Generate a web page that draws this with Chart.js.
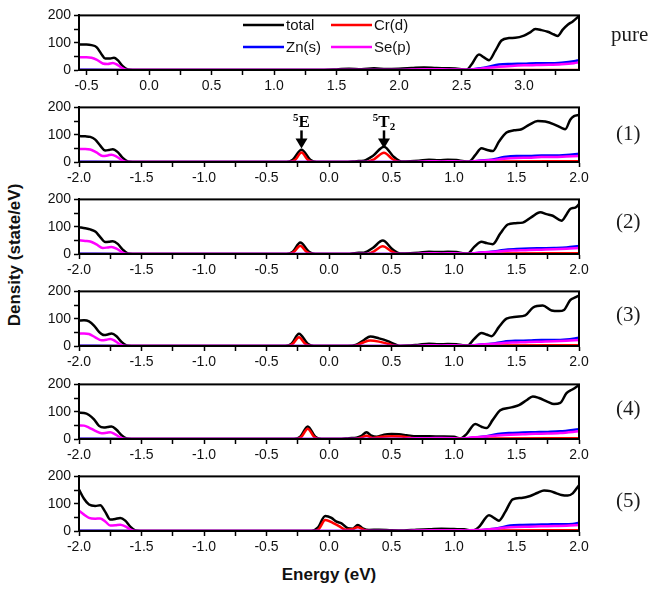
<!DOCTYPE html>
<html>
<head>
<meta charset="utf-8">
<script src="https://cdn.jsdelivr.net/npm/chart.js@4.4.1/dist/chart.umd.min.js"></script>
<style>
  body { margin: 0; background: #fff; width: 654px; height: 590px; position: relative; overflow: hidden; }
  .panel { position: absolute; left: 0; }
  .tag { position: absolute; font-family: "Liberation Serif", "Times New Roman", serif; font-size: 21px; color: #1a1a1a; }
  .ytitle { position: absolute; left: 15px; top: 255px; transform: translate(-50%, -50%) rotate(-90deg);
            font: bold 17px "Liberation Sans", Arial, sans-serif; white-space: nowrap; color: #111; }
  .xtitle { position: absolute; left: 329px; top: 575px; transform: translate(-50%, -50%);
            font: bold 17px "Liberation Sans", Arial, sans-serif; white-space: nowrap; color: #111; }
</style>
</head>
<body>
<div class="ytitle">Density (state/eV)</div>
<div class="xtitle">Energy (eV)</div>

<script>
// DOS curves, [energy, density] pairs, one set per configuration
const panelNames = ['pure', '(1)', '(2)', '(3)', '(4)', '(5)'];
const seriesNames = ['total', 'Cr(d)', 'Zn(s)', 'Se(p)'];

const yTicks = [0, 50, 100, 150, 200];
const xTicksPure = [-0.5, -0.25, 0, 0.25, 0.5, 0.75, 1, 1.25, 1.5, 1.75, 2, 2.25, 2.5, 2.75, 3, 3.25];
const xTicks = [-2, -1.75, -1.5, -1.25, -1, -0.75, -0.5, -0.25, 0, 0.25, 0.5, 0.75, 1, 1.25, 1.5, 1.75, 2];
const xRangePure = [-0.56, 3.44];
const xRange = [-2, 2];

// 5E and 5T2 peak positions in (1)
const peakE = -0.22;
const peakT2 = 0.44;

// pure
const total0 = [[-0.56,93],[-0.5,93],[-0.46,91],[-0.42,84],[-0.38,58],[-0.35,42],[-0.31,42],[-0.28,45],[-0.25,36],[-0.21,14],[-0.17,2],[-0.13,0],[1.4,0],[1.5,2],[1.6,5],[1.7,3],[1.8,6],[1.9,4],[2.0,5],[2.1,7],[2.2,9],[2.3,7],[2.4,6],[2.5,3],[2.54,1],[2.58,20],[2.64,57],[2.68,46],[2.72,36],[2.77,70],[2.82,108],[2.88,117],[2.93,118],[3.0,126],[3.05,138],[3.09,150],[3.14,146],[3.19,140],[3.24,130],[3.27,125],[3.31,148],[3.35,166],[3.39,178],[3.44,198]];
const cr0 = [[-0.56,0],[3.44,0]];
const zn0 = [[-0.56,1],[-0.2,0],[2.55,0],[2.62,5],[2.7,10],[2.8,20],[2.9,22],[3.0,23],[3.1,25],[3.2,25],[3.3,27],[3.4,32],[3.44,36]];
const se0 = [[-0.56,47],[-0.5,47],[-0.46,45],[-0.42,38],[-0.37,24],[-0.33,22],[-0.29,26],[-0.25,18],[-0.21,6],[-0.18,0],[2.0,0],[2.2,3],[2.4,2],[2.55,1],[2.65,5],[2.8,12],[2.9,15],[3.0,17],[3.1,18],[3.2,19],[3.3,21],[3.4,25],[3.44,28]];

// (1)
const total1 = [[-2,95],[-1.95,94],[-1.91,92],[-1.87,82],[-1.83,60],[-1.79,42],[-1.76,44],[-1.73,47],[-1.69,36],[-1.65,15],[-1.61,2],[-1.57,0],[-0.34,0],[-0.29,8],[-0.22,45],[-0.15,8],[-0.1,0],[0.15,0],[0.22,3],[0.28,5],[0.35,22],[0.44,56],[0.52,18],[0.58,2],[0.65,3],[0.72,5],[0.8,8],[0.88,6],[0.95,8],[1.02,7],[1.08,3],[1.12,2],[1.17,25],[1.22,50],[1.26,45],[1.31,40],[1.36,75],[1.42,108],[1.48,116],[1.54,120],[1.6,136],[1.67,150],[1.73,148],[1.8,138],[1.86,125],[1.89,120],[1.93,155],[1.96,168],[2.0,172]];
const cr1 = [[-2,0],[-0.32,0],[-0.27,8],[-0.22,35],[-0.17,8],[-0.12,0],[0.3,0],[0.36,10],[0.44,34],[0.51,10],[0.57,0],[1.1,0],[1.3,2],[2.0,3]];
const zn1 = [[-2,1],[-1.6,0],[1.12,0],[1.2,5],[1.3,8],[1.4,18],[1.5,22],[1.6,22],[1.7,24],[1.8,24],[1.9,26],[2.0,30]];
const se1 = [[-2,48],[-1.95,48],[-1.91,46],[-1.86,35],[-1.81,22],[-1.77,24],[-1.74,27],[-1.7,20],[-1.66,8],[-1.62,0],[0.7,0],[0.8,3],[0.9,2],[1.0,3],[1.1,1],[1.2,5],[1.3,7],[1.4,12],[1.5,15],[1.6,16],[1.7,18],[1.8,18],[1.9,20],[2.0,22]];

// (2)
const total2 = [[-2,98],[-1.95,94],[-1.91,90],[-1.87,82],[-1.83,62],[-1.79,44],[-1.76,45],[-1.73,47],[-1.69,37],[-1.65,16],[-1.61,2],[-1.57,0],[-0.34,0],[-0.29,8],[-0.23,42],[-0.16,8],[-0.11,0],[0.15,0],[0.22,4],[0.28,5],[0.35,22],[0.43,49],[0.51,16],[0.57,2],[0.65,3],[0.72,5],[0.8,8],[0.88,7],[0.95,8],[1.02,7],[1.07,3],[1.11,2],[1.16,25],[1.22,45],[1.26,40],[1.31,36],[1.37,75],[1.43,108],[1.49,113],[1.55,115],[1.62,135],[1.69,153],[1.74,146],[1.79,140],[1.86,122],[1.9,145],[1.93,165],[1.97,170],[2.0,182]];
const cr2 = [[-2,0],[-0.32,0],[-0.28,8],[-0.23,30],[-0.18,8],[-0.13,0],[0.3,0],[0.36,10],[0.43,28],[0.5,10],[0.56,0],[1.1,0],[1.3,2],[2.0,3]];
const zn2 = [[-2,1],[-1.6,0],[1.12,0],[1.2,5],[1.3,8],[1.4,15],[1.5,18],[1.6,20],[1.7,21],[1.8,22],[1.9,24],[2.0,29]];
const se2 = [[-2,50],[-1.95,48],[-1.91,46],[-1.86,35],[-1.81,22],[-1.77,24],[-1.74,26],[-1.7,20],[-1.66,8],[-1.62,0],[0.7,0],[0.8,3],[0.9,2],[1.0,3],[1.1,1],[1.2,5],[1.3,7],[1.4,11],[1.5,13],[1.6,15],[1.7,16],[1.8,17],[1.9,19],[2.0,22]];

// (3)
const total3 = [[-2,93],[-1.96,94],[-1.92,90],[-1.88,75],[-1.84,52],[-1.8,40],[-1.77,42],[-1.74,46],[-1.7,36],[-1.66,15],[-1.62,2],[-1.58,0],[-0.35,0],[-0.3,8],[-0.24,45],[-0.17,8],[-0.12,0],[0.15,0],[0.22,5],[0.28,22],[0.33,35],[0.4,28],[0.47,18],[0.52,8],[0.57,0],[0.65,2],[0.72,5],[0.8,8],[0.88,6],[0.95,7],[1.02,6],[1.07,3],[1.11,2],[1.16,25],[1.22,48],[1.26,42],[1.3,36],[1.36,70],[1.42,100],[1.5,107],[1.57,112],[1.63,140],[1.71,148],[1.78,130],[1.84,128],[1.88,132],[1.93,168],[1.97,178],[2.0,185]];
const cr3 = [[-2,0],[-0.33,0],[-0.29,8],[-0.24,32],[-0.19,8],[-0.14,0],[0.2,0],[0.27,12],[0.33,20],[0.4,16],[0.47,8],[0.55,0],[1.1,0],[1.3,2],[2.0,3]];
const zn3 = [[-2,1],[-1.6,0],[1.12,0],[1.2,5],[1.3,8],[1.4,16],[1.5,19],[1.6,20],[1.7,22],[1.8,22],[1.9,24],[2.0,30]];
const se3 = [[-2,45],[-1.96,46],[-1.92,44],[-1.87,32],[-1.82,21],[-1.78,23],[-1.75,26],[-1.71,18],[-1.67,6],[-1.63,0],[0.7,0],[0.8,3],[0.9,2],[1.0,3],[1.1,1],[1.2,5],[1.3,7],[1.4,11],[1.5,13],[1.6,15],[1.7,16],[1.8,17],[1.9,19],[2.0,22]];

// (4)
const total4 = [[-2,96],[-1.96,95],[-1.92,88],[-1.88,72],[-1.84,48],[-1.8,42],[-1.77,44],[-1.74,46],[-1.7,34],[-1.66,14],[-1.62,2],[-1.58,0],[-0.28,0],[-0.23,8],[-0.17,46],[-0.11,8],[-0.06,0],[0.1,0],[0.16,3],[0.22,5],[0.26,12],[0.3,25],[0.34,12],[0.38,8],[0.44,16],[0.5,18],[0.56,17],[0.62,14],[0.7,10],[0.8,10],[0.9,9],[1.0,8],[1.05,2],[1.1,18],[1.17,55],[1.22,45],[1.26,40],[1.31,70],[1.37,105],[1.45,115],[1.52,124],[1.58,142],[1.63,156],[1.68,150],[1.75,136],[1.8,128],[1.85,132],[1.9,168],[1.95,182],[2.0,198]];
const cr4 = [[-2,0],[-0.26,0],[-0.22,8],[-0.17,38],[-0.12,8],[-0.08,0],[0.2,0],[0.26,6],[0.3,12],[0.35,4],[0.42,8],[0.5,10],[0.58,9],[0.66,4],[0.75,2],[1.1,2],[1.3,2],[2.0,3]];
const zn4 = [[-2,1],[-1.6,0],[1.05,0],[1.15,5],[1.25,9],[1.35,18],[1.45,22],[1.55,24],[1.65,25],[1.75,26],[1.85,28],[2.0,36]];
const se4 = [[-2,50],[-1.96,49],[-1.92,42],[-1.87,30],[-1.82,21],[-1.78,23],[-1.75,25],[-1.71,17],[-1.67,6],[-1.63,0],[0.6,0],[0.7,3],[0.8,3],[0.9,4],[1.0,3],[1.05,1],[1.15,6],[1.25,9],[1.35,13],[1.45,16],[1.55,17],[1.65,19],[1.75,20],[1.85,22],[2.0,28]];

// (5)
const total5 = [[-2,152],[-1.96,118],[-1.92,97],[-1.87,92],[-1.83,94],[-1.79,70],[-1.75,42],[-1.71,44],[-1.67,48],[-1.63,38],[-1.59,16],[-1.55,2],[-1.51,0],[-0.14,0],[-0.09,12],[-0.03,55],[0.02,48],[0.06,34],[0.1,28],[0.15,10],[0.19,8],[0.23,22],[0.27,10],[0.32,4],[0.4,5],[0.5,3],[0.6,2],[0.7,5],[0.8,6],[0.9,8],[1.0,7],[1.08,6],[1.15,2],[1.2,15],[1.28,58],[1.32,48],[1.36,38],[1.41,70],[1.47,116],[1.54,121],[1.61,128],[1.67,140],[1.72,148],[1.77,146],[1.82,138],[1.86,132],[1.91,130],[1.95,138],[2.0,168]];
const cr5 = [[-2,0],[-0.12,0],[-0.08,8],[-0.03,40],[0.03,30],[0.08,18],[0.13,5],[0.18,6],[0.23,14],[0.28,4],[0.34,0],[1.1,0],[1.3,2],[2.0,3]];
const zn5 = [[-2,1],[-1.5,0],[1.17,0],[1.25,5],[1.35,10],[1.45,20],[1.55,22],[1.65,23],[1.75,24],[1.85,25],[1.95,26],[2.0,30]];
const se5 = [[-2,74],[-1.96,60],[-1.92,48],[-1.87,45],[-1.83,46],[-1.79,35],[-1.75,20],[-1.71,21],[-1.67,23],[-1.63,17],[-1.59,6],[-1.55,0],[0.6,0],[0.7,2],[0.8,3],[0.9,3],[1.0,3],[1.1,2],[1.2,4],[1.3,7],[1.4,12],[1.5,15],[1.6,16],[1.7,17],[1.8,18],[1.9,19],[2.0,22]];

const panelData = [
  [total0, cr0, zn0, se0],
  [total1, cr1, zn1, se1],
  [total2, cr2, zn2, se2],
  [total3, cr3, zn3, se3],
  [total4, cr4, zn4, se4],
  [total5, cr5, zn5, se5]
];

const colors = ['#000000', '#ff0000', '#0000ff', '#ff00ff'];
const drawOrder = [3, 2, 1, 0]; // magenta on top, total underneath

const panelTop = [12, 104, 196, 288, 381, 473];
const plotH = 58, padTop = 8, xAxisH = 26;
const plotLeft = 79, plotRight = 579;
const tagY = [36, 135, 223, 316, 410, 502];

const font = { family: '"Liberation Sans", Arial, sans-serif', size: 14 };
const serif = '"Liberation Serif", "Times New Roman", serif';

// box around each plot area
const framePlugin = {
  id: 'frame',
  afterDraw(chart) {
    const a = chart.chartArea, ctx = chart.ctx;
    ctx.save();
    ctx.strokeStyle = '#000';
    ctx.lineWidth = 2;
    ctx.strokeRect(a.left, a.top, a.right - a.left, a.bottom - a.top);
    ctx.restore();
  }
};

// 2x2 legend inside the top plot
const legendPlugin = {
  id: 'dosLegend',
  afterDraw(chart) {
    const ctx = chart.ctx;
    const spots = [[243, 25], [331, 25], [243, 47], [331, 47]];
    ctx.save();
    ctx.font = '15px "Liberation Sans", Arial, sans-serif';
    ctx.textBaseline = 'middle';
    chart.data.datasets.forEach((ds, i) => {
      const [x, y] = spots[i];
      const yy = y - panelTop[0] + padTop;
      ctx.strokeStyle = ds.borderColor;
      ctx.lineWidth = 2.5;
      ctx.beginPath();
      ctx.moveTo(x, yy);
      ctx.lineTo(x + 41, yy);
      ctx.stroke();
      ctx.fillStyle = '#111';
      ctx.fillText(ds.label, x + 43, yy + 1);
    });
    ctx.restore();
  }
};

// arrows marking the 5E and 5T2 levels
const levelPlugin = {
  id: 'levels',
  afterDraw(chart) {
    const ctx = chart.ctx, xs = chart.scales.x, top = chart.chartArea.top;
    const marks = [[peakE, 'E', ''], [peakT2, 'T', '2']];
    ctx.save();
    ctx.strokeStyle = '#000';
    ctx.fillStyle = '#000';
    marks.forEach(([e, main, sub]) => {
      const x = xs.getPixelForValue(e);
      // arrow
      ctx.lineWidth = 2.5;
      ctx.beginPath();
      ctx.moveTo(x, top + 23);
      ctx.lineTo(x, top + 33);
      ctx.stroke();
      ctx.beginPath();
      ctx.moveTo(x - 6, top + 31);
      ctx.lineTo(x + 6, top + 31);
      ctx.lineTo(x, top + 41);
      ctx.closePath();
      ctx.fill();
      // label: superscript 5, main letter, optional subscript
      ctx.font = 'bold 17px ' + serif;
      const w = ctx.measureText(main).width;
      ctx.font = 'bold 11px ' + serif;
      const w5 = ctx.measureText('5').width;
      const ws = sub ? ctx.measureText(sub).width : 0;
      const x0 = x - (w5 + w + ws) / 2;
      const base = top + 20;
      ctx.textBaseline = 'alphabetic';
      ctx.fillText('5', x0, base - 6);
      ctx.font = 'bold 17px ' + serif;
      ctx.fillText(main, x0 + w5, base);
      if (sub) {
        ctx.font = 'bold 11px ' + serif;
        ctx.fillText(sub, x0 + w5 + w, base + 3);
      }
    });
    ctx.restore();
  }
};

function isMajor(v) {
  return Math.abs(v * 2 - Math.round(v * 2)) < 1e-6;
}

panelData.forEach((series, p) => {
  const wrap = document.createElement('div');
  wrap.className = 'panel';
  wrap.style.top = (panelTop[p] - padTop) + 'px';
  const canvas = document.createElement('canvas');
  canvas.width = 654;
  canvas.height = padTop + plotH + xAxisH;
  wrap.appendChild(canvas);
  document.body.appendChild(wrap);

  const tag = document.createElement('div');
  tag.className = 'tag';
  tag.textContent = panelNames[p];
  tag.style.left = (p === 0 ? 611 : 616) + 'px';
  tag.style.top = (tagY[p] - 14) + 'px';
  document.body.appendChild(tag);

  const range = p === 0 ? xRangePure : xRange;
  const ticksX = p === 0 ? xTicksPure : xTicks;

  const plugins = [framePlugin];
  if (p === 0) plugins.push(legendPlugin);
  if (p === 1) plugins.push(levelPlugin);

  new Chart(canvas, {
    type: 'line',
    data: {
      datasets: series.map((pts, i) => ({
        label: seriesNames[i],
        data: pts.map(([x, y]) => ({ x, y })),
        borderColor: colors[i],
        borderWidth: 2.5,
        pointRadius: 0,
        tension: 0.4,
        cubicInterpolationMode: 'monotone',
        fill: false,
        order: drawOrder[i]
      }))
    },
    options: {
      responsive: false,
      animation: false,
      devicePixelRatio: 1,
      layout: { padding: { top: padTop, right: 654 - plotRight, left: 0, bottom: 0 } },
      plugins: { legend: { display: false }, tooltip: { enabled: false } },
      scales: {
        x: {
          type: 'linear',
          min: range[0],
          max: range[1],
          afterBuildTicks: s => { s.ticks = ticksX.map(v => ({ value: v })); },
          afterFit: s => { s.height = xAxisH; },
          border: { display: true, color: '#000', width: 2 },
          grid: { drawOnChartArea: false, drawTicks: true, tickLength: 5, tickWidth: 1.5, tickColor: '#000' },
          ticks: {
            autoSkip: false, maxRotation: 0, padding: 3, color: '#111', font,
            callback: v => isMajor(v) ? v.toFixed(1) : ''
          }
        },
        y: {
          min: 0,
          max: 200,
          afterBuildTicks: s => { s.ticks = yTicks.map(v => ({ value: v })); },
          afterFit: s => { s.width = plotLeft; },
          border: { display: true, color: '#000', width: 2 },
          grid: { drawOnChartArea: false, drawTicks: true, tickLength: 5, tickWidth: 1.5, tickColor: '#000' },
          ticks: {
            autoSkip: false, padding: 3, color: '#111', font,
            callback: v => v % 100 === 0 ? String(v) : ''
          }
        }
      }
    },
    plugins
  });
});
</script>
</body>
</html>
